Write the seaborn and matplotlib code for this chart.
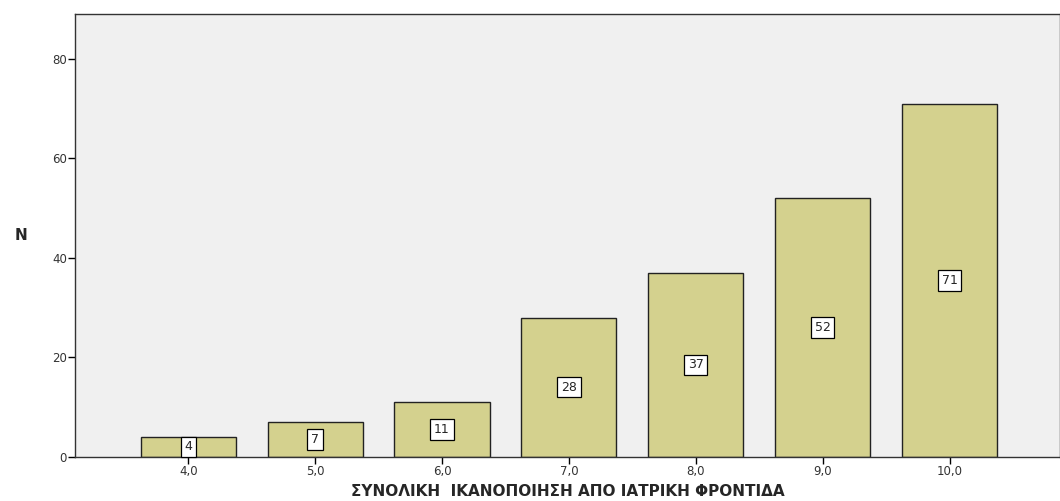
import matplotlib
matplotlib.use("Agg")
import matplotlib.pyplot as plt
import seaborn as sns
import pandas as pd

categories = ["4,0", "5,0", "6,0", "7,0", "8,0", "9,0", "10,0"]
counts = [4, 7, 11, 28, 37, 52, 71]

df = pd.DataFrame({"score": categories, "N": counts})

sns.set_style("white")
plt.rcParams['font.family'] = ['DejaVu Sans']

fig = plt.figure(figsize=(10.6, 5.01), dpi=100)
ax = fig.add_axes([0.071, 0.088, 0.929, 0.884])
ax.set_facecolor("#f0f0f0")

sns.barplot(data=df, x="score", y="N", color="#d4d18e", saturation=1,
            width=0.75, edgecolor="#222222", linewidth=1.0, ax=ax)

for i, v in enumerate(counts):
    ax.text(i, v / 2, str(v), ha="center", va="center", fontsize=9,
            bbox=dict(boxstyle="square,pad=0.3", fc="white", ec="black", lw=0.9))

ax.set_xlim(-0.89, 6.87)
ax.set_ylim(0, 89)
ax.set_yticks([0, 20, 40, 60, 80])
ax.tick_params(axis="both", direction="out", length=5, width=1, colors="black",
               labelsize=8.5, labelcolor="#333333", left=True, bottom=True, pad=1)

for s in ax.spines.values():
    s.set_color("#333333")
    s.set_linewidth(1.0)

ax.set_xlabel("ΣΥΝΟΛΙΚΗ  ΙΚΑΝΟΠΟΙΗΣΗ ΑΠΟ ΙΑΤΡΙΚΗ ΦΡΟΝΤΙΔΑ",
              fontsize=11, fontweight="bold", labelpad=4)
ax.set_ylabel("N", fontsize=11, fontweight="bold", rotation=0, labelpad=22, va="center")

fig.savefig("out.png", dpi=100, facecolor="white")
